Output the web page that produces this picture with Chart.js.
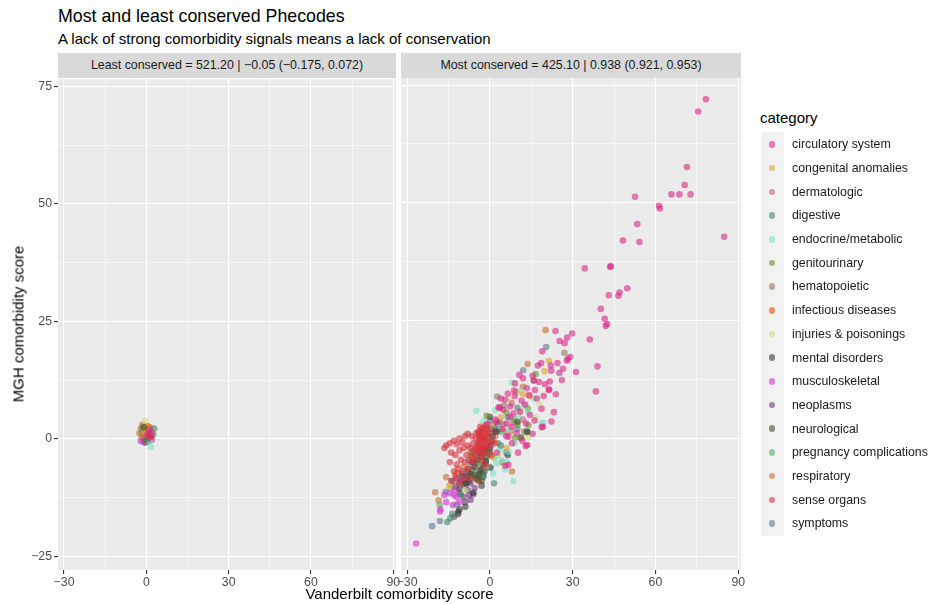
<!DOCTYPE html>
<html><head><meta charset="utf-8">
<script src="https://cdn.jsdelivr.net/npm/chart.js@4.4.1/dist/chart.umd.min.js"></script>
<style>
body{margin:0;width:930px;height:604px;background:#fff;font-family:"Liberation Sans",Arial,Helvetica,sans-serif;position:relative;overflow:hidden}
.abs{position:absolute;white-space:nowrap;line-height:1}
.strip{position:absolute;top:53px;height:25px;line-height:25px;background:#D9D9D9;color:#1A1A1A;font-size:12.4px;text-align:center}
canvas{position:absolute}
</style></head><body>
<div class="abs" id="title" style="left:58px;top:8px;font-size:17.8px;color:#000"></div>
<div class="abs" id="subtitle" style="left:58px;top:31px;font-size:15px;color:#000"></div>
<div class="strip" id="strip0" style="left:58px;width:338px"></div>
<div class="strip" id="strip1" style="left:401px;width:340px"></div>
<canvas id="c0" width="404" height="520" style="left:0px;top:70px"></canvas>
<canvas id="c1" width="356" height="520" style="left:393px;top:70px"></canvas>
<div class="abs" id="xtitle" style="left:58px;width:683px;text-align:center;top:586px;font-size:15px;color:#000"></div>
<div class="abs" id="ytitle" style="left:18px;top:324px;font-size:15px;color:#000;transform:translate(-50%,-50%) rotate(-90deg)"></div>
<div class="abs" id="lgtitle" style="left:760px;top:110px;font-size:15px;color:#000"></div>
<div style="position:absolute;left:761px;top:132px;width:23px;height:404px;background:#F2F2F2"></div>
<div id="legend"></div>
<script>
const chartTitle = "Most and least conserved Phecodes";
const chartSubtitle = "A lack of strong comorbidity signals means a lack of conservation";
const panelTitles = ["Least conserved = 521.20 | \u22120.05 (\u22120.175, 0.072)", "Most conserved = 425.10 | 0.938 (0.921, 0.953)"];
const xAxisTitle = "Vanderbilt comorbidity score";
const yAxisTitle = "MGH comorbidity score";
const legendTitle = "category";
const xTicks = [-30, 0, 30, 60, 90];
const xMinorTicks = [-15, 15, 45, 75];
const yTicks = [-25, 0, 25, 50, 75];
const yMinorTicks = [-12.5, 12.5, 37.5, 62.5];

const categories = ["circulatory system","congenital anomalies","dermatologic","digestive","endocrine/metabolic","genitourinary","hematopoietic","infectious diseases","injuries & poisonings","mental disorders","musculoskeletal","neoplasms","neurological","pregnancy complications","respiratory","sense organs","symptoms"];
const colors = ["#DA2685","#DEA02D","#CA6171","#43846B","#78E3C5","#649621","#8C7A5A","#E84903","#D0DC82","#3A3A3A","#D934D0","#733982","#44502A","#5AAC69","#C56E30","#D9323C","#5F7696"];

// ---- Least conserved panel ----
const least_circulatory = [[0.5,1.0],[1.5,0.5],[1.0,2.0],[1.8,1.4]];
const least_congenital = [[0.2,2.5],[-0.8,1.5]];
const least_dermatologic = [[-0.5,0.8]];
const least_digestive = [[2.9,2.2],[-0.1,0.0],[2.5,1.0]];
const least_endocrine = [[1.7,-1.7],[1.0,-0.5]];
const least_genitourinary = [[0.8,1.8]];
const least_hematopoietic = [[-1.5,1.5]];
const least_infectious = [[2.0,0.5]];
const least_injuries = [[-0.5,3.8]];
const least_mental = [[0.5,-0.3]];
const least_musculoskeletal = [[-2.0,-0.5],[2.0,-0.2]];
const least_neoplasms = [[-0.5,-0.8]];
const least_neurological = [[-1.0,2.5]];
const least_pregnancy = [[-1.5,1.8]];
const least_respiratory = [[-0.5,2.0],[0.5,1.5],[-1.2,1.0],[0.0,2.8],[1.0,1.2],[-2.0,2.2],[-1.5,3.0],[0.8,2.6],[-2.5,1.2],[-0.3,0.8],[0.3,0.4],[-1.8,0.4],[-0.8,-0.3],[0.6,-0.6],[-1.0,0.0],[1.4,2.4]];
const least_sense = [[1.2,0.3]];
const least_symptoms = [[-1.2,-0.5]];

// ---- Most conserved panel ----
const most_circulatory = [[78.3,72.0],[75.5,69.4],[71.4,57.6],[70.6,53.8],[65.8,51.8],[68.7,51.8],[72.7,51.8],[52.6,51.3],[61.3,49.4],[61.6,48.8],[84.9,42.8],[53.4,45.5],[48.2,42.0],[54.2,41.7],[34.4,36.1],[43.8,36.6],[43.6,36.4],[49.8,31.9],[47.0,31.0],[43.1,30.4],[46.6,30.3],[40.2,27.5],[41.6,25.4],[42.5,24.3],[42.0,23.9],[23.8,22.8],[29.8,22.3],[36.2,21.0],[25.3,20.7],[27.1,20.2],[28.0,21.4],[29.1,17.3],[27.9,16.5],[28.3,16.9],[39.0,15.3],[17.4,15.5],[18.6,16.0],[22.1,15.5],[22.2,14.4],[25.2,13.9],[31.2,14.1],[10.7,13.5],[9.1,11.7],[15.5,13.3],[16.0,12.3],[13.4,10.7],[16.3,10.3],[21.7,12.1],[26.1,12.4],[21.5,10.4],[23.9,9.4],[38.4,10.0],[21.4,10.3],[23.2,5.6],[22.3,3.6],[19.2,2.5],[18.8,2.4],[3.6,6.5],[4.9,6.1],[8.5,5.3],[10.9,5.7],[7.3,4.6],[18.7,6.3],[16.2,3.8],[13.0,-1.6],[10.2,-3.0],[6.1,3.2],[7.9,2.5],[13.1,3.2],[9.7,1.1],[6.7,0.4],[3.2,6.6],[7.3,6.8],[6.7,-5.6],[5.6,-5.8],[13.6,-1.4],[2.0,4.0],[4.5,2.0],[11.5,8.0],[12.8,7.2],[14.5,5.0],[9.0,9.0],[5.5,8.2],[1.5,1.5],[-1.0,3.0],[0.5,-1.5],[8.0,-1.0],[2.5,-3.0],[4.0,8.5],[6.5,9.5],[8.8,10.2],[12.0,12.8],[14.2,9.2],[17.0,8.5],[19.5,9.0],[20.0,11.5],[24.5,16.0],[26.5,14.8],[19.0,18.5],[17.8,12.0],[2.5,3.5],[6.0,0.5],[11.8,-0.5],[15.5,1.0]];
const most_congenital = [[21.4,16.5],[19.8,14.3],[12.1,9.4],[14.5,9.0],[4.0,4.5],[-14.6,-10.0],[-2.0,1.0],[6.0,-2.0],[1.0,-4.0],[9.5,9.8]];
const most_dermatologic = [[5.0,3.0],[-3.0,-2.0],[8.0,7.5],[-6.0,-4.5],[2.0,0.5],[12.0,4.0],[-1.0,-6.0]];
const most_digestive = [[-15.4,-17.7],[-14.3,-16.9],[-13.6,-16.0],[-2.4,-8.1],[0.0,-6.1],[-2.4,-7.7],[2.0,2.0],[6.5,4.5],[-5.0,-3.5],[10.0,6.5],[-8.0,-7.0],[4.0,-1.5],[-10.5,-12.0],[1.5,-9.5]];
const most_endocrine = [[8.0,11.9],[-4.9,5.9],[12.4,6.9],[19.3,3.4],[18.8,3.2],[-2.4,3.6],[-0.6,2.5],[3.6,2.5],[4.9,1.1],[4.3,-4.6],[6.1,-4.9],[1.8,-4.2],[0.0,-3.5],[3.6,-2.4],[6.7,-2.8],[-1.2,-6.3],[1.2,-7.4],[2.4,-5.3],[8.5,-9.0],[5.5,-6.5],[-3.5,-4.0],[10.5,4.5],[14.0,5.5],[7.0,2.0],[-6.0,-8.0],[16.0,8.5],[2.0,6.0],[9.0,-1.0],[-8.0,-4.5],[11.0,10.0]];
const most_genitourinary = [[16.6,13.7],[13.8,6.3],[14.0,2.8],[9.1,0.1],[11.2,0.1],[-1.2,4.8],[3.5,3.5],[-4.0,-1.5],[6.0,5.5],[0.5,2.0],[-7.0,-3.0],[10.0,3.0]];
const most_hematopoietic = [[27.0,18.2],[2.7,8.9],[15.8,12.3],[5.0,7.0],[-2.0,0.0],[8.5,3.5],[12.5,1.5]];
const most_infectious = [[-8.0,-6.5],[2.0,-1.0],[-12.0,-7.5],[5.0,1.5],[-4.0,-9.0],[-6.5,-4.0]];
const most_injuries = [[14.0,0.2],[18.0,7.3],[-0.5,-0.5],[-14.8,-10.2],[7.5,8.0],[3.0,-3.5],[16.5,4.5],[-9.0,-11.0],[11.0,5.5]];
const most_mental = [[-11.4,-15.5],[-8.9,-14.5],[-11.5,-16.0],[-11.0,-15.0],[-10.9,-10.6],[-8.5,-9.5],[-4.0,-7.5],[-1.5,-5.0],[2.5,1.5],[13.4,1.4],[11.3,0.2],[-6.0,-11.5],[0.0,-2.0],[6.5,-3.5],[-3.0,-10.0],[0.2,-6.2],[0.0,4.6]];
const most_musculoskeletal = [[-26.7,-22.3],[-17.9,-15.0],[-18.0,-15.5],[-15.8,-13.5],[-13.4,-14.1],[-14.6,-11.6],[-12.1,-12.4],[-12.8,-10.9],[-13.0,-12.0],[-10.0,-9.0],[-11.0,-13.5],[-8.0,-7.5],[-5.0,-2.0],[-16.5,-12.0]];
const most_neoplasms = [[-13.0,-16.6],[-12.0,-8.5],[-10.5,-9.0],[-9.0,-10.0],[-8.0,-11.0],[-7.0,-9.5],[-6.5,-8.0],[-11.0,-11.5],[-9.5,-12.4],[-7.5,-12.0],[-5.5,-10.5],[-10.0,-7.5],[-8.5,-8.5],[-6.0,-11.8],[-12.5,-10.2],[-4.5,-8.8],[-9.0,-13.5],[-3.0,-6.5],[-1.0,-3.0],[3.0,3.0],[-14.0,-9.0],[-7.0,-13.0]];
const most_neurological = [[0.6,-0.7],[-1.2,-3.9],[-4.8,-5.3],[-6.1,-6.7],[-3.6,-6.7],[-2.0,-2.5],[-3.0,-4.0],[-5.5,-6.0],[-7.0,-7.5],[-4.0,-7.8],[-2.5,-5.5],[-1.0,-1.5],[0.0,-2.8],[1.0,0.5],[-6.5,-5.0],[-8.0,-8.0],[-5.0,-8.5],[-3.5,-3.0],[-1.5,-4.8],[-7.5,-9.0],[-4.5,-4.5],[-2.0,-7.0],[2.0,1.5],[-0.5,0.5],[-5.8,-7.8],[-3.0,-9.0],[-9.0,-9.5],[13.6,1.4],[10.0,3.5],[-10.0,-8.0]];
const most_pregnancy = [[-18.2,-14.1],[-14.0,-10.5],[3.5,1.5],[-6.0,-2.5],[9.0,4.0],[-11.2,-9.4]];
const most_respiratory = [[20.2,23.0],[13.7,15.8],[-15.8,-8.2],[-19.8,-11.4],[-18.6,-13.1],[4.5,-5.1],[8.0,-7.0],[1.0,3.0],[-3.0,0.5],[-9.5,-6.0],[12.0,11.0],[7.5,1.5],[-6.0,-3.0]];
const most_sense = [[-15.8,-1.5],[-14.5,-1.0],[-13.0,-0.5],[-12.0,-1.2],[-11.0,0.0],[-10.0,-0.8],[-9.0,0.5],[-8.0,1.0],[-14.0,-3.0],[-12.5,-3.5],[-11.0,-2.5],[-9.5,-2.0],[-8.5,-3.5],[-7.0,-2.0],[-6.0,-1.0],[-5.0,0.0],[-4.0,1.0],[-3.0,2.0],[-2.0,1.5],[-1.0,2.0],[0.0,1.0],[-4.5,-1.5],[-3.5,-0.5],[-2.5,-1.0],[-1.5,0.0],[-0.5,-1.0],[-4.0,-3.0],[-3.0,-2.5],[-2.0,-3.0],[-1.0,-2.0],[-5.5,-2.5],[-6.5,-3.5],[-7.5,-4.5],[-9.0,-5.0],[-10.5,-4.5],[-12.0,-5.5],[-11.5,-6.5],[-13.0,-7.0],[-10.0,-7.0],[-8.0,-6.5],[-6.0,-5.0],[-5.0,-4.0],[-3.0,-4.5],[-4.0,1.5],[-2.5,2.2],[-1.5,2.8],[-3.5,2.5],[-0.5,2.0],[1.0,-0.5],[-13.5,-9.0],[-11.0,-9.5],[-6.5,0.5],[-8.0,-1.5],[-16.5,-2.0],[-7.0,-8.5],[-2.0,-5.5],[0.5,-3.5],[-9.5,-8.5],[-12.5,-8.0],[-14.5,-5.0],[-4.2,-0.8],[-3.2,0.6],[-2.2,-0.2],[-4.8,1.2],[-1.2,1.0],[-3.8,-2.0],[-2.8,-3.6],[-3.4,-1.2],[-2.6,0.2],[-1.8,-1.6],[-4.4,-2.6],[-3.0,1.2],[-1.4,-0.6],[-2.4,-2.2],[-3.8,0.2]];
const most_symptoms = [[20.4,19.4],[12.1,14.5],[-16.0,-11.3],[-20.9,-18.6],[-18.1,-17.5],[0.0,3.9],[-2.4,-8.1],[6.0,-3.0],[-7.0,-5.5],[10.0,2.0],[3.0,-1.0],[-12.0,-14.0]];

const leastData = [least_circulatory,least_congenital,least_dermatologic,least_digestive,least_endocrine,least_genitourinary,least_hematopoietic,least_infectious,least_injuries,least_mental,least_musculoskeletal,least_neoplasms,least_neurological,least_pregnancy,least_respiratory,least_sense,least_symptoms];
const mostData = [most_circulatory,most_congenital,most_dermatologic,most_digestive,most_endocrine,most_genitourinary,most_hematopoietic,most_infectious,most_injuries,most_mental,most_musculoskeletal,most_neoplasms,most_neurological,most_pregnancy,most_respiratory,most_sense,most_symptoms];
const drawOrder = [3,10,10,10,10,10,10,10,10,10,10,10,2,10,10,1,10];

function hexA(h,a){const n=parseInt(h.slice(1),16);return `rgba(${n>>16},${(n>>8)&255},${n&255},${a})`;}
const FONT = '"Liberation Sans", Arial, sans-serif';

document.getElementById('title').textContent = chartTitle;
document.getElementById('subtitle').textContent = chartSubtitle;
document.getElementById('strip0').textContent = panelTitles[0];
document.getElementById('strip1').textContent = panelTitles[1];
document.getElementById('xtitle').textContent = xAxisTitle;
document.getElementById('ytitle').textContent = yAxisTitle;
document.getElementById('lgtitle').textContent = legendTitle;

const lg = document.getElementById('legend');
categories.forEach((c,i)=>{
  const cy = 144.5 + i*23.69;
  const dot = document.createElement('div');
  dot.style.cssText = `position:absolute;left:${772-3.3}px;top:${cy-3.3}px;width:6.6px;height:6.6px;border-radius:50%;background:${hexA(colors[i],0.6)}`;
  lg.appendChild(dot);
  const t = document.createElement('div');
  t.className='abs';
  t.style.cssText = `left:792px;top:${cy-6.2}px;font-size:12.35px;color:#1A1A1A`;
  t.textContent = c;
  lg.appendChild(t);
});

const bgPlugin = {id:'panelbg', beforeDraw(chart){const a=chart.chartArea;const ctx=chart.ctx;ctx.save();ctx.fillStyle='#EBEBEB';ctx.fillRect(a.left,a.top,a.right-a.left,a.bottom-a.top);ctx.restore();}};

function fmt(v){return v<0?'\u2212'+Math.abs(v):String(v);}
function makeDatasets(arrs){
  return categories.map((c,i)=>({label:c,data:arrs[i].map(p=>({x:p[0],y:p[1]})),backgroundColor:hexA(colors[i],0.6),borderWidth:0,pointRadius:3.3,pointHoverRadius:3.3,order:drawOrder[i]}));
}
function xScale(){
  const all = xTicks.concat(xMinorTicks).sort((a,b)=>a-b);
  return {type:'linear',min:-32.2,max:91,
    afterBuildTicks:s=>{s.ticks=all.map(v=>({value:v}));},
    afterFit:s=>{s.height=20;},
    ticks:{autoSkip:false,maxRotation:0,padding:1,color:'#4D4D4D',font:{size:12.3,family:FONT},callback:v=>xTicks.includes(v)?fmt(v):''},
    grid:{color:'#FFFFFF',lineWidth:c=>xTicks.includes(c.tick.value)?1.1:0.55,drawTicks:true,tickLength:4,tickWidth:1.1,tickColor:c=>xTicks.includes(c.tick.value)?'#333333':'rgba(0,0,0,0)'},
    border:{display:false}};
}
function yScale(showLabels){
  const all = yTicks.concat(yMinorTicks).sort((a,b)=>a-b);
  return {type:'linear',min:-27.9,max:76.5,
    afterBuildTicks:s=>{s.ticks=all.map(v=>({value:v}));},
    afterFit:s=>{s.width=showLabels?58:0;},
    ticks:{display:showLabels,autoSkip:false,padding:2,color:'#4D4D4D',font:{size:12.3,family:FONT},callback:v=>yTicks.includes(v)?fmt(v):''},
    grid:{color:'#FFFFFF',lineWidth:c=>yTicks.includes(c.tick.value)?1.1:0.55,drawTicks:showLabels,tickLength:4,tickWidth:1.1,tickColor:c=>yTicks.includes(c.tick.value)?'#333333':'rgba(0,0,0,0)'},
    border:{display:false}};
}
function makeChart(id, arrs, showY, pad){
  return new Chart(document.getElementById(id),{
    type:'scatter',
    data:{datasets:makeDatasets(arrs)},
    options:{responsive:false,animation:false,devicePixelRatio:1,
      layout:{padding:pad},
      plugins:{legend:{display:false},tooltip:{enabled:false},title:{display:false}},
      scales:{x:xScale(),y:yScale(showY)}},
    plugins:[bgPlugin]
  });
}
makeChart('c0', leastData, true, {top:8,right:8,left:0,bottom:0});
makeChart('c1', mostData, false, {top:8,right:8,left:8,bottom:0});
</script>
</body></html>
